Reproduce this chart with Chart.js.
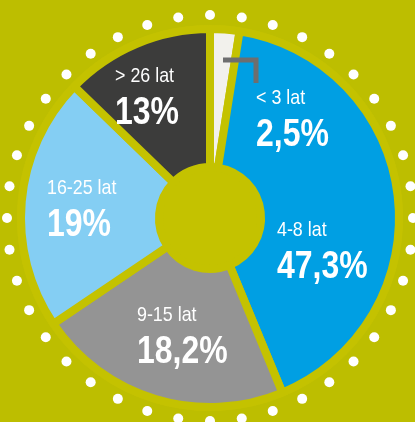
<!DOCTYPE html>
<html>
<head>
<meta charset="utf-8">
<script src="https://cdn.jsdelivr.net/npm/chart.js@4"></script>
<style>
  html, body { margin: 0; padding: 0; background: #bdbe00; }
  canvas { display: block; }
</style>
</head>
<body>
<canvas id="myChart" width="415" height="422"></canvas>
<script>
// age groups, clockwise from the top
var ageGroups = ['< 3 lat', '4-8 lat', '9-15 lat', '16-25 lat', '> 26 lat'];
// printed shares
var shareLabels = ['2,5%', '47,3%', '18,2%', '19%', '13%'];
// slice sizes as drawn in the picture (percent of the circle)
var sliceShares = [2.5, 41.25, 21.8, 21.7, 12.75];
var sliceColors = ['#f2f1ec', '#009fe3', '#949494', '#84cef3', '#3c3c3b'];

// text anchor (left edge, first line) relative to the pie centre
var labelOffsets = [[46, -120], [67, 12], [-73, 97], [-163, -30], [-95, -142]];

var bgColor = '#bdbe00';
var ringColor = '#c4c200';

// condensed look: squeeze a normal sans horizontally
function narrowText(ctx, text, x, y, font, squeeze) {
  ctx.save();
  ctx.translate(x, y);
  ctx.scale(squeeze, 1);
  ctx.font = font;
  ctx.fillText(text, 0, 0);
  ctx.restore();
}

var decorPlugin = {
  id: 'decor',
  beforeDraw: function(chart) {
    var ctx = chart.ctx;
    var arc = chart.getDatasetMeta(0).data[0];
    ctx.save();
    ctx.fillStyle = bgColor;
    ctx.fillRect(0, 0, chart.width, chart.height);
    // lighter band round the pie
    ctx.fillStyle = ringColor;
    ctx.beginPath();
    ctx.arc(arc.x, arc.y, arc.outerRadius + 4, 0, Math.PI * 2);
    ctx.fill();
    // dotted ring
    ctx.fillStyle = '#ffffff';
    for (var i = 0; i < 40; i++) {
      var a = -Math.PI / 2 + i * Math.PI * 2 / 40;
      ctx.beginPath();
      ctx.arc(arc.x + Math.cos(a) * 203, arc.y + Math.sin(a) * 203, 5, 0, Math.PI * 2);
      ctx.fill();
    }
    ctx.restore();
  },
  afterDatasetsDraw: function(chart) {
    var ctx = chart.ctx;
    var meta = chart.getDatasetMeta(0);
    var cx = meta.data[0].x, cy = meta.data[0].y;
    ctx.save();
    // small leader for the "< 3 lat" slice
    ctx.strokeStyle = '#6e6e6e';
    ctx.lineWidth = 5;
    ctx.beginPath();
    ctx.moveTo(cx + 13, cy - 158);
    ctx.lineTo(cx + 46, cy - 158);
    ctx.lineTo(cx + 46, cy - 135);
    ctx.stroke();

    ctx.fillStyle = '#ffffff';
    ctx.textAlign = 'left';
    ctx.textBaseline = 'middle';
    for (var i = 0; i < ageGroups.length; i++) {
      var x = cx + labelOffsets[i][0];
      var y = cy + labelOffsets[i][1];
      narrowText(ctx, ageGroups[i], x, y, '21px "Liberation Sans", Arial, sans-serif', 0.85);
      narrowText(ctx, shareLabels[i], x, y + 37, 'bold 39px "Liberation Sans", Arial, sans-serif', 0.82);
    }
    ctx.restore();
  }
};

var ctx = document.getElementById('myChart');
var myChart = new Chart(ctx, {
  type: 'doughnut',
  data: {
    labels: ageGroups,
    datasets: [{
      data: sliceShares,
      backgroundColor: sliceColors,
      borderColor: ringColor,
      borderWidth: 8
    }]
  },
  options: {
    responsive: false,
    animation: false,
    rotation: 0,
    cutout: '27%',
    layout: { padding: { left: 17, top: 25, right: 12, bottom: 11 } },
    plugins: {
      legend: { display: false },
      tooltip: { enabled: false }
    }
  },
  plugins: [decorPlugin]
});
</script>
</body>
</html>
